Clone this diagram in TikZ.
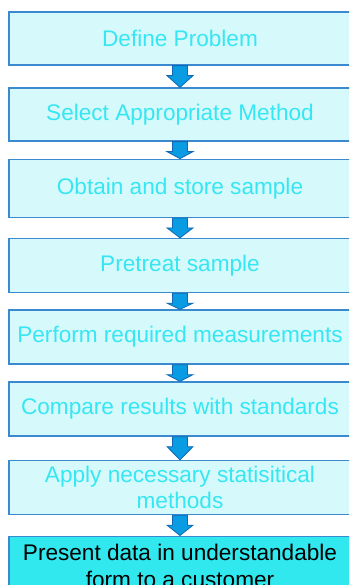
\documentclass[tikz,border=0pt]{standalone}
\usepackage{fontspec}
\setmainfont{Liberation Sans}
\usetikzlibrary{calc}
\definecolor{boxline}{HTML}{3B8AD0}
\definecolor{boxfill}{HTML}{D6FAFB}
\definecolor{steptext}{HTML}{36E6F2}
\definecolor{lastfill}{HTML}{30E8EE}
\definecolor{arrowfill}{HTML}{0A9CE2}
\definecolor{arrowline}{HTML}{1268B4}
\tikzset{
  stepbox/.style={draw=boxline, line width=1.3pt, fill=boxfill, text=steptext,
    inner sep=0pt, minimum width=342pt, align=center,
    font=\fontsize{22.6pt}{26.8pt}\selectfont},
  lastbox/.style={stepbox, fill=lastfill, text=black},
  blockarrow/.style={fill=arrowfill, draw=arrowline, line width=0.8pt, line join=miter}
}
% block arrow from the bottom of one step to the top of the next
\newcommand{\flowarrow}[2]{%
  \path[blockarrow]
    ($(#1.south)+(-7.5,0)$) -- ($(#1.south)+(-7.5,10)$) -- ($(#1.south)+(-13,10)$)
    -- (#2.north) -- ($(#1.south)+(13,10)$) -- ($(#1.south)+(7.5,10)$)
    -- ($(#1.south)+(7.5,0)$) -- cycle;}
\begin{document}
\begin{tikzpicture}[x=1pt,y=-1pt]
\useasboundingbox (0,0) rectangle (349,585);
\clip (0,0) rectangle (349,585);
\node[stepbox, minimum height=53pt] (s1) at (180,38.5) {Define Problem};
\node[stepbox, minimum height=53pt] (s2) at (180,114.5) {Select Appropriate Method};
\node[stepbox, minimum height=58pt] (s3) at (180,188.3) {Obtain and store sample};
\node[stepbox, minimum height=54pt] (s4) at (180,265.5) {Pretreat sample};
\node[stepbox, minimum height=54pt] (s5) at (180,337) {Perform required measurements};
\node[stepbox, minimum height=54pt] (s6) at (180,409) {Compare results with standards};
\node[stepbox, minimum height=54pt] (s7) at (180,487.5) {Apply necessary statisitical\\methods};
\node[lastbox, minimum height=60pt, anchor=north] (s8) at (180,535.5)
  {\rule{0pt}{5pt}Present data in understandable\\form to a customer};
\flowarrow{s1}{s2}
\flowarrow{s2}{s3}
\flowarrow{s3}{s4}
\flowarrow{s4}{s5}
\flowarrow{s5}{s6}
\flowarrow{s6}{s7}
\flowarrow{s7}{s8}
\end{tikzpicture}
\end{document}
